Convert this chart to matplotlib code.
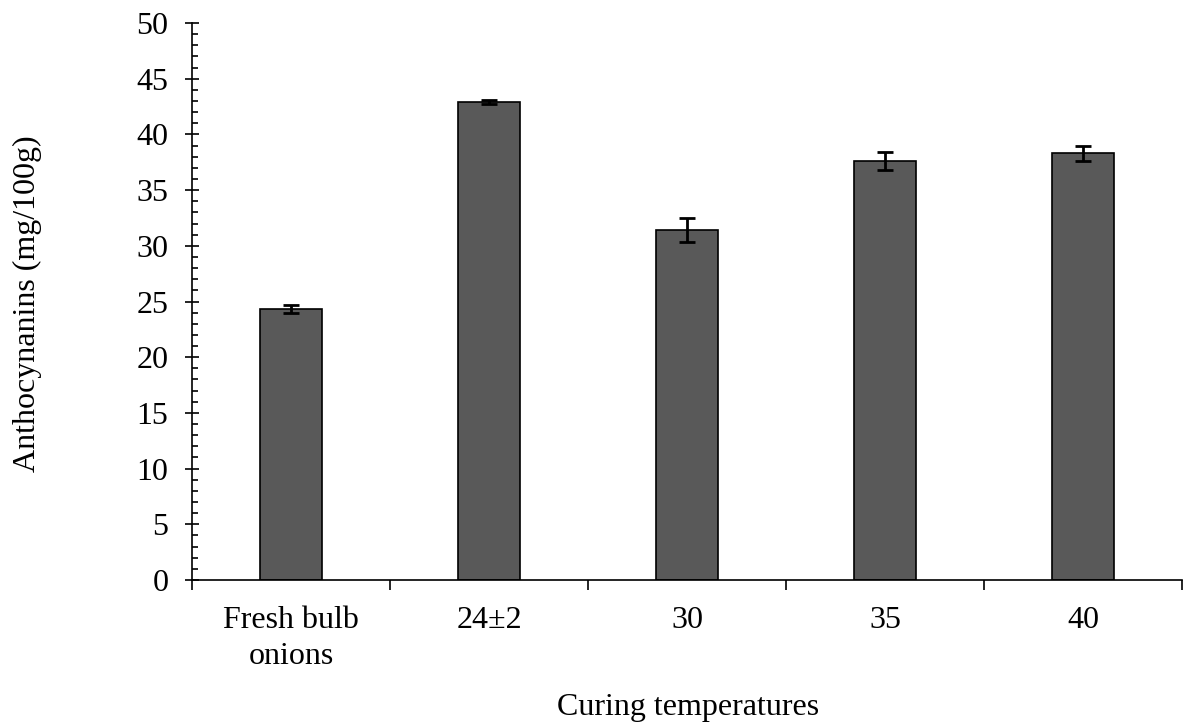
import numpy as np
import matplotlib.pyplot as plt
from matplotlib.ticker import MultipleLocator

categories = ["Fresh bulb\nonions", "24\u00b12", "30", "35", "40"]
anthocyanins = [24.3, 42.9, 31.4, 37.6, 38.3]
errors = [0.35, 0.2, 1.1, 0.8, 0.65]

plt.rcParams['font.family'] = ['Liberation Serif', 'DejaVu Serif']
fs = 23

fig = plt.figure(figsize=(11.87, 7.25), dpi=100)
ax = fig.add_axes([192 / 1187, 1 - 580 / 725, 990 / 1187, 557 / 725])

x = np.arange(len(categories))
ax.bar(x, anthocyanins, width=0.31, color="#595959", edgecolor="black",
       linewidth=1.2, yerr=errors,
       error_kw=dict(ecolor="black", elinewidth=2, capsize=6, capthick=2))

ax.set_xlim(-0.5, len(categories) - 0.5)
ax.set_ylim(0, 50)
ax.yaxis.set_major_locator(MultipleLocator(5))
ax.yaxis.set_minor_locator(MultipleLocator(1))

# category separators as ticks under the x axis
ax.set_xticks(np.arange(len(categories) + 1) - 0.5, minor=True)
ax.set_xticks(x)
ax.set_xticklabels(categories, fontsize=fs, linespacing=1.32)
ax.tick_params(axis='x', which='major', length=0, pad=19)
ax.tick_params(axis='x', which='minor', length=7, width=1.2, direction='out')
ax.tick_params(axis='y', which='major', length=10, width=1.2, direction='inout',
               labelsize=fs, pad=12)
ax.tick_params(axis='y', which='minor', length=4.5, width=1.2, direction='in')

for side in ["top", "right"]:
    ax.spines[side].set_visible(False)
for side in ["left", "bottom"]:
    ax.spines[side].set_linewidth(1.2)

fig.text(688 / 1187, 1 - 707 / 725, "Curing temperatures", fontsize=fs,
         ha='center', va='center')
fig.text(27 / 1187, 1 - 304 / 725, "Anthocynanins (mg/100g)", fontsize=fs,
         ha='center', va='center', rotation=90)

fig.savefig("out.png", dpi=100)
